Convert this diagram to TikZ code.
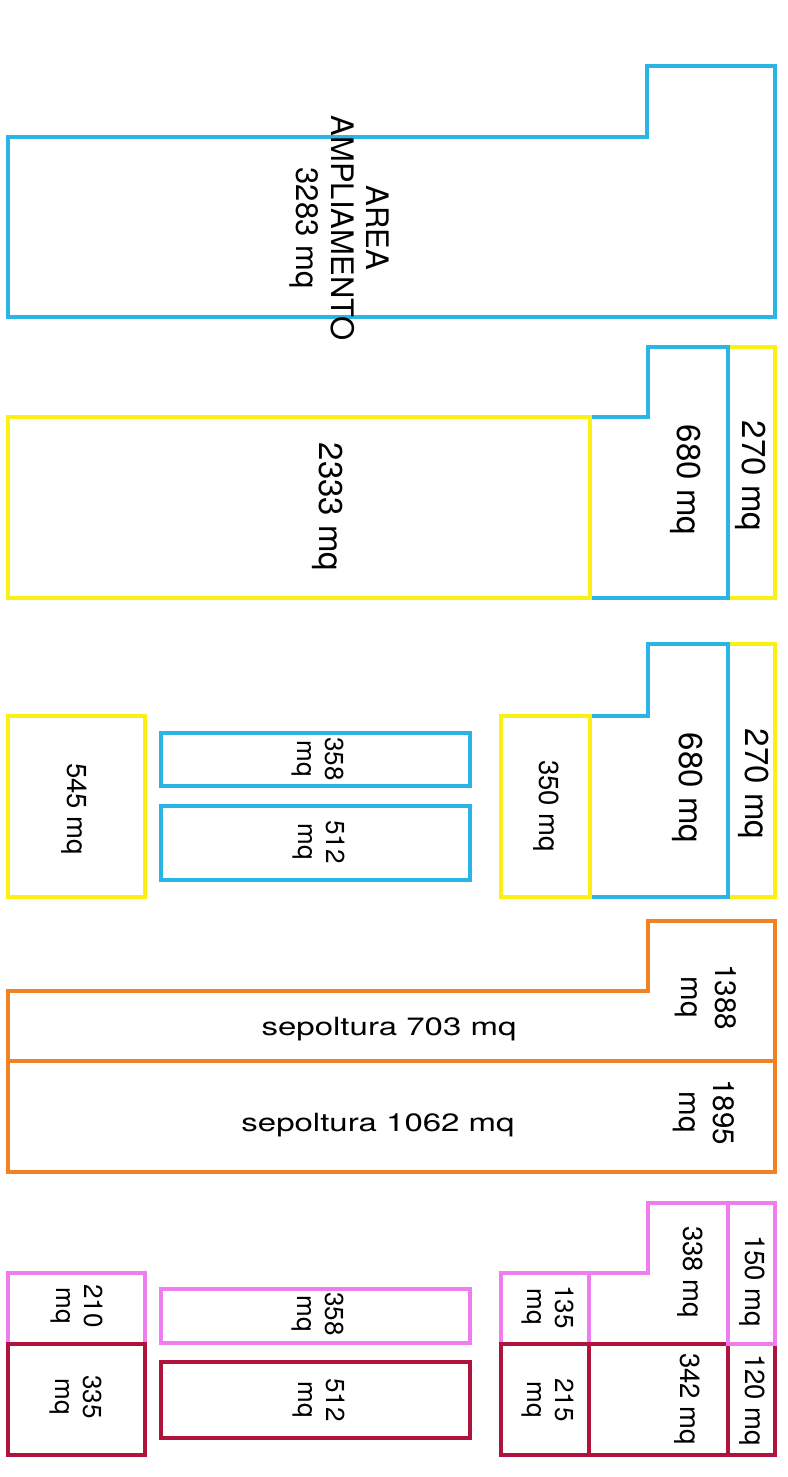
\documentclass[tikz,border=0pt]{standalone}
\usepackage{fontspec}
\setmainfont{TeX Gyre Heros}
\usepackage{graphicx}
\usetikzlibrary{positioning}

\definecolor{ampblue}{RGB}{42,181,230}
\definecolor{lotyellow}{RGB}{250,240,20}
\definecolor{sepolorange}{RGB}{240,130,35}
\definecolor{lotpink}{RGB}{240,125,240}
\definecolor{lotcrimson}{RGB}{175,20,60}

\begin{document}
\begin{tikzpicture}[
			x=0.5pt, y=-0.5pt,
			plot/.style={line width=1.65pt, line join=miter},
			biglabel/.style={rotate=-90, inner sep=0pt, align=center, font=\fontsize{16.5}{17.5}\selectfont},
			midlabel/.style={rotate=-90, inner sep=0pt, align=center, font=\fontsize{13.75}{15}\selectfont},
			pairlabel/.style={rotate=-90, inner sep=0pt, align=center, font=\fontsize{13}{13.7}\selectfont},
			widelabel/.style={inner sep=0pt, font=\fontsize{16.5}{18}\selectfont}
			]
			
			\useasboundingbox (0,0) rectangle (787,1477);
			
			% Area ampliamento
			\draw[plot, ampblue] (8,137) -- (647,137) -- (647,66) -- (775,66) -- (775,317) -- (8,317) -- cycle;
			\node[biglabel, font=\fontsize{15.5}{17.5}\selectfont] (Area) at (339,228) {AREA\\AMPLIAMENTO\\3283 mq};
			
			% Second strip
			\draw[plot, lotyellow] (728,347) rectangle (775,598);
			\draw[plot, ampblue] (590,417) -- (648,417) -- (648,347) -- (728,347) -- (728,598) -- (590,598) -- cycle;
			\draw[plot, lotyellow] (8,417) rectangle (590,598);
			\node[biglabel] (A2333) at (328,507) {2333 mq};
			\node[biglabel] (A680a) at (686,480) {680 mq};
			\node[biglabel] (A270a) at (751,476) {270 mq};
			
			% Third strip
			\draw[plot, lotyellow] (728,644) rectangle (775,897);
			\draw[plot, ampblue] (590,716) -- (648,716) -- (648,644) -- (728,644) -- (728,897) -- (590,897) -- cycle;
			\draw[plot, lotyellow] (501,716) rectangle (590,897);
			\draw[plot, ampblue] (161,733) rectangle (470,786);
			\draw[plot, ampblue] (161,806) rectangle (470,880);
			\draw[plot, lotyellow] (8,716) rectangle (145,897);
			\node[midlabel] (A545) at (74,809) {545 mq};
			\node[pairlabel] (A358a) at (318,759) {358\\mq};
			\node[pairlabel] (A512a) at (319,842) {512\\mq};
			\node[midlabel] (A350) at (546,806) {350 mq};
			\node[biglabel] (A680b) at (688,788) {680 mq};
			\node[biglabel] (A270b) at (754,784) {270 mq};
			
			% Sepolture
			\draw[plot, sepolorange] (8,991) -- (648,991) -- (648,921) -- (775,921) -- (775,1061) -- (8,1061) -- cycle;
			\draw[plot, sepolorange] (8,1061) rectangle (775,1172);
			\node[widelabel] (S703) at (389,1029) {\scalebox{1}[0.76]{sepoltura 703 mq}};
			\node[widelabel] (S1062) at (378,1125) {\scalebox{1}[0.76]{sepoltura 1062 mq}};
			\node[biglabel, font=\fontsize{14.75}{17}\selectfont] (A1388) at (706,997) {1388\\mq};
			\node[biglabel, font=\fontsize{14.75}{17}\selectfont] (A1895) at (704,1112) {1895\\mq};
			
			% Last strip
			\draw[plot, lotpink] (589,1273) -- (648,1273) -- (648,1203) -- (728,1203) -- (728,1344) -- (589,1344) -- cycle;
			\draw[plot, lotpink] (501,1273) rectangle (589,1344);
			\draw[plot, lotpink] (161,1289) rectangle (470,1343);
			\draw[plot, lotpink] (8,1273) rectangle (145,1344);
			\draw[plot, lotcrimson] (501,1344) rectangle (589,1455);
			\draw[plot, lotcrimson] (589,1344) rectangle (728,1455);
			\draw[plot, lotcrimson] (728,1344) rectangle (775,1455);
			\draw[plot, lotcrimson] (161,1362) rectangle (470,1438);
			\draw[plot, lotcrimson] (8,1344) rectangle (145,1455);
			\draw[plot, lotpink] (728,1203) rectangle (775,1344);
			\node[midlabel] (A338) at (690,1272) {338 mq};
			\node[midlabel] (A150) at (752,1281) {150 mq};
			\node[pairlabel] (A135) at (548,1307) {135\\mq};
			\node[pairlabel] (A358b) at (318,1314) {358\\mq};
			\node[pairlabel] (A210) at (77,1306) {210\\mq};
			\node[pairlabel] (A335) at (76,1397) {335\\mq};
			\node[pairlabel] (A512b) at (319,1400) {512\\mq};
			\node[pairlabel] (A215) at (548,1400) {215\\mq};
			\node[midlabel] (A342) at (687,1399) {342 mq};
			\node[midlabel] (A120) at (752,1400) {120 mq};
			
		\end{tikzpicture}
\end{document}
